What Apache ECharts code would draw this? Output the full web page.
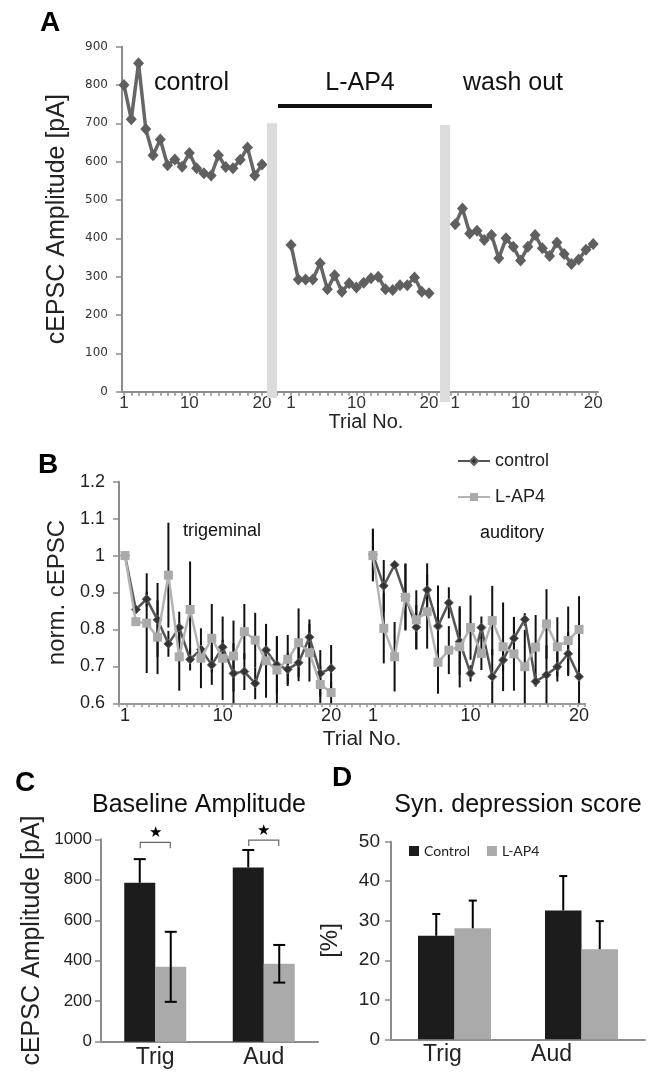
<!DOCTYPE html>
<html>
<head>
<meta charset="utf-8">
<script src="https://cdn.jsdelivr.net/npm/echarts@6/dist/echarts.min.js"></script>
<style>
  html, body { margin: 0; padding: 0; background: #fff; }
  #main { width: 658px; height: 1074px; }
</style>
</head>
<body>
<div id="main"></div>
<script>
// ---- data ----
const trials = [1, 2, 3, 4, 5, 6, 7, 8, 9, 10, 11, 12, 13, 14, 15, 16, 17, 18, 19, 20];
const trialLabels = [1, 10, 20];

// A: cEPSC amplitude [pA] per trial
const aControl = [800, 711, 857, 685, 617, 658, 591, 606, 587, 623, 583, 570, 564, 617, 586, 583, 605, 637, 564, 593];
const aLAP4 = [383, 293, 293, 293, 335, 267, 304, 261, 283, 272, 284, 296, 300, 267, 265, 278, 278, 298, 261, 257];
const aWash = [437, 478, 413, 420, 396, 409, 348, 400, 378, 342, 378, 409, 374, 354, 389, 359, 333, 345, 370, 385];

// B: normalized cEPSC, mean and error
const bTrigC = [1.0, 0.854, 0.882, 0.826, 0.761, 0.805, 0.719, 0.746, 0.704, 0.752, 0.681, 0.686, 0.654, 0.744, 0.704, 0.692, 0.71, 0.779, 0.681, 0.695];
const bTrigCErr = [0, 0.01, 0.02, 0.1, 0.035, 0.043, 0.03, 0.02, 0.054, 0.02, 0.082, 0.05, 0.043, 0.07, 0.078, 0.045, 0.05, 0.048, 0.063, 0.063];
const bTrigL = [1.0, 0.821, 0.817, 0.779, 0.947, 0.726, 0.854, 0.722, 0.776, 0.722, 0.728, 0.794, 0.771, 0.715, 0.69, 0.719, 0.764, 0.737, 0.651, 0.629];
const bTrigLErr = [0, 0.01, 0.135, 0.1, 0.142, 0.092, 0.13, 0.081, 0.093, 0.113, 0.096, 0.075, 0.074, 0.1, 0.09, 0.066, 0.093, 0.078, 0.05, 0.03];
const bAudC = [1.003, 0.918, 0.975, 0.889, 0.806, 0.907, 0.809, 0.872, 0.767, 0.681, 0.805, 0.672, 0.717, 0.776, 0.827, 0.659, 0.677, 0.699, 0.734, 0.672];
const bAudCErr = [0.07, 0.07, 0.01, 0.09, 0.06, 0.072, 0.11, 0.042, 0.09, 0.022, 0.03, 0.075, 0.03, 0.057, 0.017, 0.014, 0.08, 0.04, 0.06, 0.075];
const bAudL = [1.0, 0.803, 0.726, 0.887, 0.826, 0.848, 0.711, 0.744, 0.753, 0.805, 0.735, 0.824, 0.753, 0.734, 0.699, 0.752, 0.815, 0.753, 0.77, 0.8];
const bAudLErr = [0.07, 0.095, 0.094, 0.09, 0.08, 0.1, 0.085, 0.065, 0.11, 0.087, 0.045, 0.094, 0.12, 0.1, 0.1, 0.087, 0.094, 0.08, 0.092, 0.09];

// C / D: bar charts
const groups = ['Trig', 'Aud'];
const cControl = [785, 861];
const cControlErr = [117, 86];
const cLAP4 = [370, 385];
const cLAP4Err = [173, 93];
const cSigLevel = [985, 996];
const dControl = [26.2, 32.6];
const dControlErr = [5.5, 8.7];
const dLAP4 = [28.1, 22.8];
const dLAP4Err = [7.0, 7.1];

// ---- layout helpers ----
const aOffset = [0, 23, 45.6];   // where each A segment starts on the x axis
const bOffset = [0, 22.85];      // trigeminal / auditory
const FONT = 'Liberation Sans, Arial, sans-serif';
const AXIS = '#8c8c8c';

const pts = (vals, off) => trials.map((t, i) => [t + off, vals[i]]);
const errPts = (vals, errs, off) => trials.map((t, i) => [t + off, vals[i], errs[i]]);

const aTicks = [];
for (let i = 1; i <= 66; i++) aTicks.push(i);
const aLabelPos = [];
aOffset.forEach(o => trialLabels.forEach(t => aLabelPos.push(t + o)));
const bLabelPos = [];
bOffset.forEach(o => trialLabels.forEach(t => bLabelPos.push(t + o)));

function trialText(v, offs) {
  let o = 0;
  offs.forEach(x => { if (v > x + 0.5) o = x; });
  return String(Math.round(v - o));
}

function lineErr(params, api) {
  const x = api.value(0), v = api.value(1), e = api.value(2);
  if (!e) return null;
  const hi = api.coord([x, Math.min(v + e, 1.2)]);
  const lo = api.coord([x, Math.max(v - e, 0.6)]);
  return {
    type: 'line',
    shape: { x1: hi[0], y1: hi[1], x2: lo[0], y2: lo[1] },
    style: { stroke: '#111', lineWidth: 2 }
  };
}

function barErr(shift, both, cap) {
  return function (params, api) {
    const c = api.value(0), v = api.value(1), e = api.value(2);
    const top = api.coord([c, v + e]);
    const bot = api.coord([c, both ? v - e : v]);
    const x = top[0] + shift;
    const st = { stroke: '#000', lineWidth: 2 };
    const kids = [
      { type: 'line', shape: { x1: x, y1: top[1], x2: x, y2: bot[1] }, style: st },
      { type: 'line', shape: { x1: x - cap, y1: top[1], x2: x + cap, y2: top[1] }, style: st }
    ];
    if (both) kids.push({ type: 'line', shape: { x1: x - cap, y1: bot[1], x2: x + cap, y2: bot[1] }, style: st });
    return { type: 'group', children: kids };
  };
}

function sigBracket(params, api) {
  const p = api.coord([api.value(0), api.value(1)]);
  const x1 = p[0] - 15, x2 = p[0] + 15, y = p[1];
  return {
    type: 'group',
    children: [
      { type: 'polyline', shape: { points: [[x1, y + 6], [x1, y], [x2, y], [x2, y + 6]] },
        style: { stroke: '#666', lineWidth: 1.2, fill: null } },
      { type: 'text', x: p[0], y: y - 9,
        style: { text: '★', fontSize: 15, fill: '#000', textAlign: 'center', textVerticalAlign: 'middle' } }
    ]
  };
}

const aLine = {
  type: 'line', xAxisIndex: 0, yAxisIndex: 0,
  symbol: 'diamond', symbolSize: [11, 12],
  lineStyle: { color: '#666', width: 3.5 },
  itemStyle: { color: '#5f5f5f' },
  silent: true
};
const bCtrl = {
  type: 'line', name: 'control', xAxisIndex: 1, yAxisIndex: 1,
  symbol: 'diamond', symbolSize: 9,
  lineStyle: { color: '#555', width: 2.5 },
  itemStyle: { color: '#333', borderColor: '#666', borderWidth: 1 },
  z: 3
};
const bLap = {
  type: 'line', name: 'L-AP4', xAxisIndex: 1, yAxisIndex: 1,
  symbol: 'rect', symbolSize: 9,
  lineStyle: { color: '#b3b3b3', width: 2.5 },
  itemStyle: { color: '#aaaaaa' },
  z: 4
};
const bErr = { type: 'custom', xAxisIndex: 1, yAxisIndex: 1, renderItem: lineErr, z: 2, silent: true };

const yAxisBase = (grid, min, max, interval, labelStyle, margin) => ({
  type: 'value', gridIndex: grid, min: min, max: max, interval: interval,
  axisLine: { show: true, lineStyle: { color: AXIS, width: 2 } },
  axisTick: { show: true, length: 6, lineStyle: { color: AXIS, width: 1.5 } },
  axisLabel: Object.assign({ margin: margin, color: '#222', fontFamily: FONT, formatter: v => String(v) }, labelStyle),
  splitLine: { show: false }
});

const text = (x, y, s, size, opts) => ({
  type: 'text', x: x, y: y, z: 10,
  style: Object.assign({
    text: s, fontSize: size, fontFamily: FONT, fill: '#111',
    textAlign: 'center', textVerticalAlign: 'middle'
  }, opts || {})
});

const option = {
  backgroundColor: '#fff',
  animation: false,
  textStyle: { fontFamily: FONT },
  grid: [
    { left: 122, top: 46.7, width: 476, height: 345 },
    { left: 119, top: 481.7, width: 466, height: 221.6 },
    { left: 101, top: 839.3, width: 217, height: 202.4 },
    { left: 391, top: 841.7, width: 254, height: 197.6 }
  ],
  legend: [
    {
      data: ['control', 'L-AP4'], orient: 'vertical', left: 452, top: 447,
      itemWidth: 32, itemHeight: 10, itemGap: 18, selectedMode: false,
      textStyle: { fontSize: 18, color: '#222', fontFamily: FONT }
    },
    {
      data: [
        { name: 'Control', itemStyle: { color: '#1c1c1c', borderWidth: 0 } },
        { name: 'L-AP4', itemStyle: { color: '#aaaaaa', borderWidth: 0 } }
      ],
      icon: 'rect', left: 404, top: 839, itemWidth: 10, itemHeight: 10, itemGap: 17,
      selectedMode: false,
      textStyle: { fontSize: 14, color: '#222', fontFamily: 'Lato, sans-serif' }
    }
  ],
  xAxis: [
    {
      type: 'value', gridIndex: 0, min: 0.725, max: 66.26,
      axisLine: { lineStyle: { color: AXIS, width: 2 } },
      axisTick: { show: true, length: 4, customValues: aTicks, lineStyle: { color: AXIS, width: 1.5 } },
      axisLabel: {
        customValues: aLabelPos, margin: 3, fontSize: 17, color: '#333',
        formatter: v => trialText(v, aOffset)
      },
      splitLine: { show: false },
      name: 'Trial No.', nameLocation: 'middle', nameGap: 14,
      nameTextStyle: { fontSize: 20, color: '#222', verticalAlign: 'top', padding: [0, 0, 0, 12] }
    },
    {
      type: 'value', gridIndex: 1, min: 0.447, max: 43.4,
      axisLine: { lineStyle: { color: '#999', width: 2 } },
      axisTick: { show: false },
      axisLabel: {
        customValues: bLabelPos, margin: 4, fontSize: 18, color: '#222',
        formatter: v => trialText(v, bOffset)
      },
      splitLine: { show: false },
      name: 'Trial No.', nameLocation: 'middle', nameGap: 25,
      nameTextStyle: { fontSize: 21, color: '#222', verticalAlign: 'top', padding: [0, 0, 0, 20] }
    },
    {
      type: 'value', gridIndex: 1, position: 'bottom', min: 0, max: 62, interval: 1,
      axisLine: { show: false },
      axisTick: { show: true, length: 4, lineStyle: { color: '#999', width: 1.5 } },
      axisLabel: { show: false },
      splitLine: { show: false }
    },
    {
      type: 'category', gridIndex: 2, data: groups,
      axisLine: { lineStyle: { color: AXIS, width: 2 } },
      axisTick: { length: 5, lineStyle: { color: AXIS, width: 1.5 } },
      axisLabel: { fontSize: 23, color: '#222', margin: 4 }
    },
    {
      type: 'category', gridIndex: 3, data: groups,
      axisLine: { lineStyle: { color: AXIS, width: 2 } },
      axisTick: { length: 5, lineStyle: { color: AXIS, width: 1.5 } },
      axisLabel: {
        fontSize: 23, color: '#222', margin: 4,
        formatter: v => (v === 'Trig' ? '{t|' + v + '}' : '{a|' + v + '}'),
        rich: {
          t: { fontSize: 23, color: '#222', padding: [0, 24, 0, 0] },
          a: { fontSize: 23, color: '#222', padding: [0, 60, 0, 0] }
        }
      }
    }
  ],
  yAxis: [
    Object.assign(yAxisBase(0, 0, 900, 100, { fontSize: 12, color: '#333', fontFamily: 'DejaVu Sans' }, 14), {
      name: 'cEPSC Amplitude [pA]', nameLocation: 'middle', nameGap: 52,
      nameTextStyle: { fontSize: 25, color: '#222' }
    }),
    Object.assign(yAxisBase(1, 0.6, 1.2, 0.1, { fontSize: 18, formatter: null }, 14), {
      name: 'norm. cEPSC', nameLocation: 'middle', nameGap: 45,
      nameTextStyle: { fontSize: 24, color: '#222' }
    }),
    Object.assign(yAxisBase(2, 0, 1000, 200, { fontSize: 17 }, 9), {
      name: 'cEPSC Amplitude [pA]', nameLocation: 'middle', nameGap: 56,
      nameTextStyle: { fontSize: 25, color: '#222' }
    }),
    Object.assign(yAxisBase(3, 0, 50, 10, { fontSize: 19 }, 11), {
      name: '[%]', nameLocation: 'middle', nameGap: 49,
      nameTextStyle: { fontSize: 24, color: '#222' }
    })
  ],
  series: [
    // A
    Object.assign({}, aLine, { name: 'A control', data: pts(aControl, aOffset[0]) }),
    Object.assign({}, aLine, { name: 'A L-AP4', data: pts(aLAP4, aOffset[1]) }),
    Object.assign({}, aLine, { name: 'A wash out', data: pts(aWash, aOffset[2]) }),
    // B
    Object.assign({}, bCtrl, { data: pts(bTrigC, bOffset[0]) }),
    Object.assign({}, bCtrl, { data: pts(bAudC, bOffset[1]) }),
    Object.assign({}, bLap, { data: pts(bTrigL, bOffset[0]) }),
    Object.assign({}, bLap, { data: pts(bAudL, bOffset[1]) }),
    Object.assign({}, bErr, { data: errPts(bTrigC, bTrigCErr, bOffset[0]) }),
    Object.assign({}, bErr, { data: errPts(bTrigL, bTrigLErr, bOffset[0]) }),
    Object.assign({}, bErr, { data: errPts(bAudC, bAudCErr, bOffset[1]) }),
    Object.assign({}, bErr, { data: errPts(bAudL, bAudLErr, bOffset[1]) }),
    // C
    { type: 'bar', name: 'Control', xAxisIndex: 3, yAxisIndex: 2, data: cControl,
      barWidth: 31, barGap: '0%', itemStyle: { color: '#1c1c1c' } },
    { type: 'bar', name: 'L-AP4', xAxisIndex: 3, yAxisIndex: 2, data: cLAP4,
      barWidth: 31, barGap: '0%', itemStyle: { color: '#aaaaaa' } },
    { type: 'custom', xAxisIndex: 3, yAxisIndex: 2, renderItem: barErr(-15.5, false, 6), z: 5,
      data: groups.map((g, i) => [g, cControl[i], cControlErr[i]]) },
    { type: 'custom', xAxisIndex: 3, yAxisIndex: 2, renderItem: barErr(15.5, true, 6), z: 5,
      data: groups.map((g, i) => [g, cLAP4[i], cLAP4Err[i]]) },
    { type: 'custom', xAxisIndex: 3, yAxisIndex: 2, renderItem: sigBracket, z: 5,
      data: groups.map((g, i) => [g, cSigLevel[i]]) },
    // D
    { type: 'bar', name: 'Control', xAxisIndex: 4, yAxisIndex: 3, data: dControl,
      barWidth: 36.5, barGap: '0%', itemStyle: { color: '#1c1c1c' } },
    { type: 'bar', name: 'L-AP4', xAxisIndex: 4, yAxisIndex: 3, data: dLAP4,
      barWidth: 36.5, barGap: '0%', itemStyle: { color: '#aaaaaa' } },
    { type: 'custom', xAxisIndex: 4, yAxisIndex: 3, renderItem: barErr(-18.25, false, 4), z: 5,
      data: groups.map((g, i) => [g, dControl[i], dControlErr[i]]) },
    { type: 'custom', xAxisIndex: 4, yAxisIndex: 3, renderItem: barErr(18.25, false, 4), z: 5,
      data: groups.map((g, i) => [g, dLAP4[i], dLAP4Err[i]]) }
  ],
  graphic: [
    // panel letters
    text(50, 23, 'A', 28, { fontWeight: 'bold', fill: '#000' }),
    text(48, 465, 'B', 28, { fontWeight: 'bold', fill: '#000' }),
    text(25, 783, 'C', 28, { fontWeight: 'bold', fill: '#000' }),
    text(342, 778, 'D', 28, { fontWeight: 'bold', fill: '#000' }),
    // A annotations
    text(154, 83, 'control', 25, { textAlign: 'left' }),
    text(360, 83, 'L-AP4', 25),
    text(513, 83, 'wash out', 25),
    { type: 'rect', shape: { x: 278, y: 104, width: 154, height: 4 }, style: { fill: '#111' } },
    { type: 'rect', shape: { x: 267, y: 123, width: 10, height: 275 }, style: { fill: '#dcdcdc' }, z: 5 },
    { type: 'rect', shape: { x: 440, y: 125, width: 10, height: 277 }, style: { fill: '#dcdcdc' }, z: 5 },
    // B annotations
    text(222, 531, 'trigeminal', 18),
    text(512, 533, 'auditory', 18),
    // C / D titles
    text(199, 805, 'Baseline Amplitude', 25),
    text(518, 805, 'Syn. depression score', 25)
  ]
};

const myChart = echarts.init(document.getElementById('main'));
myChart.setOption(option);
</script>
</body>
</html>
